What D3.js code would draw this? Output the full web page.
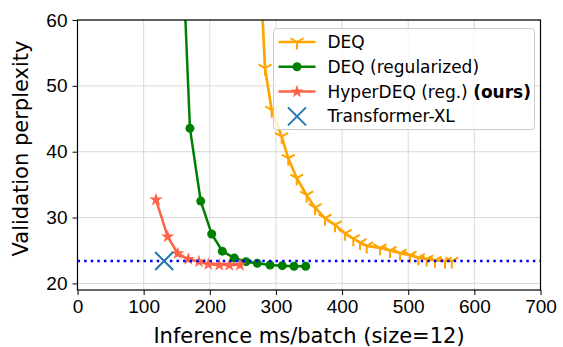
<!DOCTYPE html>
<html>
<head>
<meta charset="utf-8">
<script src="https://cdn.jsdelivr.net/npm/d3@7"></script>
<style>
  body { margin: 0; background: #fff; }
  svg { font-family: "DejaVu Sans", sans-serif; }
  .grid line { stroke: #d9d9d9; stroke-width: 1; }
  .axis path, .axis line { stroke: #000; }
  .axis text { font-size: 19px; fill: #000; }
</style>
</head>
<body>
<div id="chart"></div>
<script>
// data (inference ms/batch, validation perplexity)
const deqX = [277, 283.5, 293.6, 308.7, 318.7, 331.4, 346.5, 359.1, 374.2, 389.3, 404.5, 417, 427.1, 437.3, 457.4, 472.5, 487.6, 502.7, 515.3, 528, 540.5, 555.6, 565.8];
const deqY = [66, 52.7, 46.3, 42.3, 39.0, 36.0, 33.4, 31.5, 29.9, 28.9, 27.6, 26.8, 26.2, 25.7, 25.4, 25.0, 24.6, 24.3, 23.9, 23.7, 23.5, 23.4, 23.4];
const regX = [159, 170, 186.3, 202.9, 218.9, 237.1, 254.8, 271.8, 291, 309.6, 327.3, 345];
const regY = [70, 43.55, 32.5, 27.5, 24.9, 23.85, 23.3, 23.05, 22.8, 22.7, 22.6, 22.6];
const hyperX = [118.7, 136.4, 151.5, 167.5, 183.7, 197.8, 214.4, 229.5, 245.7];
const hyperY = [32.7, 27.1, 24.55, 23.7, 23.3, 22.9, 22.8, 22.8, 22.8];
const txlX = [131];
const txlY = [23.4];
const baseline = 23.4; // Transformer-XL perplexity line

const xTicks = [0, 100, 200, 300, 400, 500, 600, 700];
const yTicks = [20, 30, 40, 50, 60];

const width = 563, height = 347;
const margin = {top: 20, right: 22.5, bottom: 57, left: 77.5};
const innerW = width - margin.left - margin.right,
      innerH = height - margin.top - margin.bottom;

const svg = d3.select('#chart').append('svg')
    .attr('width', width).attr('height', height);

const scaleX = d3.scaleLinear([0, 700], [0, innerW]);
const scaleY = d3.scaleLinear([19, 60], [innerH, 0]);

const chart = svg.append('g')
    .attr('transform', `translate(${margin.left},${margin.top})`);

chart.append('clipPath').attr('id', 'clip')
  .append('rect').attr('width', innerW).attr('height', innerH);

// grid
chart.append('g').classed('grid', true)
    .selectAll('line.gx').data(xTicks).join('line')
    .attr('x1', d => scaleX(d)).attr('x2', d => scaleX(d))
    .attr('y1', 0).attr('y2', innerH);
chart.append('g').classed('grid', true)
    .selectAll('line.gy').data(yTicks).join('line')
    .attr('x1', 0).attr('x2', innerW)
    .attr('y1', d => scaleY(d)).attr('y2', d => scaleY(d));

const zip = (xs, ys) => xs.map((x, i) => [x, ys[i]]);
const line = d3.line().x(d => scaleX(d[0])).y(d => scaleY(d[1]));

const plot = chart.append('g').attr('clip-path', 'url(#clip)');

// tri_down marker: stem down, two arms up
const triDown = (g, s) => {
  g.append('path')
    .attr('d', `M0,0L0,${s}M0,0L${-0.866*s},${-0.5*s}M0,0L${0.866*s},${-0.5*s}`)
    .attr('fill', 'none').attr('stroke', 'orange').attr('stroke-width', 2);
};

// DEQ
const deq = zip(deqX, deqY);
plot.append('path').datum(deq)
    .attr('d', line).attr('fill', 'none')
    .attr('stroke', 'orange').attr('stroke-width', 2.7);
plot.selectAll('g.tri').data(deq).join('g').classed('tri', true)
    .attr('transform', d => `translate(${scaleX(d[0])},${scaleY(d[1])})`)
    .each(function(){ triDown(d3.select(this), 7.5); });

// DEQ (regularized)
const reg = zip(regX, regY);
plot.append('path').datum(reg)
    .attr('d', line).attr('fill', 'none')
    .attr('stroke', 'green').attr('stroke-width', 2.5);
plot.selectAll('circle.reg').data(reg).join('circle').classed('reg', true)
    .attr('cx', d => scaleX(d[0])).attr('cy', d => scaleY(d[1]))
    .attr('r', 4.5).attr('fill', 'green');

// HyperDEQ
const hyper = zip(hyperX, hyperY);
const star = d3.symbol(d3.symbolStar, 55);
plot.append('path').datum(hyper)
    .attr('d', line).attr('fill', 'none')
    .attr('stroke', 'tomato').attr('stroke-width', 2.5);
plot.selectAll('path.star').data(hyper).join('path').classed('star', true)
    .attr('transform', d => `translate(${scaleX(d[0])},${scaleY(d[1])})`)
    .attr('d', star).attr('fill', 'tomato');

// baseline
plot.append('line')
    .attr('x1', 0).attr('x2', innerW)
    .attr('y1', scaleY(baseline)).attr('y2', scaleY(baseline))
    .attr('stroke', 'blue').attr('stroke-width', 2.5)
    .attr('stroke-dasharray', '2.5,4.1');

// Transformer-XL
const xMark = (g, s) => {
  g.append('path')
    .attr('d', `M${-s},${-s}L${s},${s}M${-s},${s}L${s},${-s}`)
    .attr('stroke', '#1f77b4').attr('stroke-width', 2).attr('fill', 'none');
};
plot.selectAll('g.txl').data(zip(txlX, txlY)).join('g').classed('txl', true)
    .attr('transform', d => `translate(${scaleX(d[0])},${scaleY(d[1])})`)
    .each(function(){ xMark(d3.select(this), 9); });

// axes
chart.append('g').classed('axis', true)
    .attr('transform', `translate(0,${innerH})`)
    .call(d3.axisBottom(scaleX).tickValues(xTicks).tickSize(5).tickPadding(5))
    .call(g => g.select('.domain').remove());
chart.append('g').classed('axis', true)
    .call(d3.axisLeft(scaleY).tickValues(yTicks).tickSize(5).tickPadding(5))
    .call(g => g.select('.domain').remove());

// frame
chart.append('rect')
    .attr('width', innerW).attr('height', innerH)
    .attr('fill', 'none').attr('stroke', '#000').attr('stroke-width', 1.2);

// labels
svg.append('text')
    .attr('x', margin.left + innerW/2).attr('y', 343)
    .attr('text-anchor', 'middle').style('font-size', '21px')
    .text('Inference ms/batch (size=12)');
svg.append('text')
    .attr('transform', `translate(28,148.5)rotate(-90)`)
    .attr('text-anchor', 'middle').style('font-size', '21px')
    .text('Validation perplexity');

// legend
const legend = svg.append('g').attr('transform', 'translate(273.5,28.5)');
legend.append('rect')
    .attr('width', 261).attr('height', 101).attr('rx', 3)
    .attr('fill', 'white').attr('fill-opacity', 0.8)
    .attr('stroke', '#ccc').attr('stroke-width', 1);

const items = [
  {label: 'DEQ', color: 'orange', mark: 'tri'},
  {label: 'DEQ (regularized)', color: 'green', mark: 'dot'},
  {label: 'HyperDEQ (reg.) ', bold: '(ours)', color: 'tomato', mark: 'star'},
  {label: 'Transformer-XL', color: '#1f77b4', mark: 'x'}
];
items.forEach((it, i) => {
  const g = legend.append('g').attr('transform', `translate(0,${13.5 + i*24.8})`);
  if (it.mark !== 'x') {
    g.append('line').attr('x1', 5).attr('x2', 42)
      .attr('stroke', it.color).attr('stroke-width', 2.5);
  }
  const m = g.append('g').attr('transform', 'translate(23.5,0)');
  if (it.mark === 'tri') triDown(m, 7.5);
  if (it.mark === 'dot') m.append('circle').attr('r', 4.5).attr('fill', it.color);
  if (it.mark === 'star') m.append('path').attr('d', star).attr('fill', it.color);
  if (it.mark === 'x') xMark(m, 9);
  const t = g.append('text').attr('x', 54).attr('y', 6).style('font-size', '17px');
  t.append('tspan').text(it.label);
  if (it.bold) t.append('tspan').style('font-weight', 'bold').text(it.bold);
});
</script>
</body>
</html>
